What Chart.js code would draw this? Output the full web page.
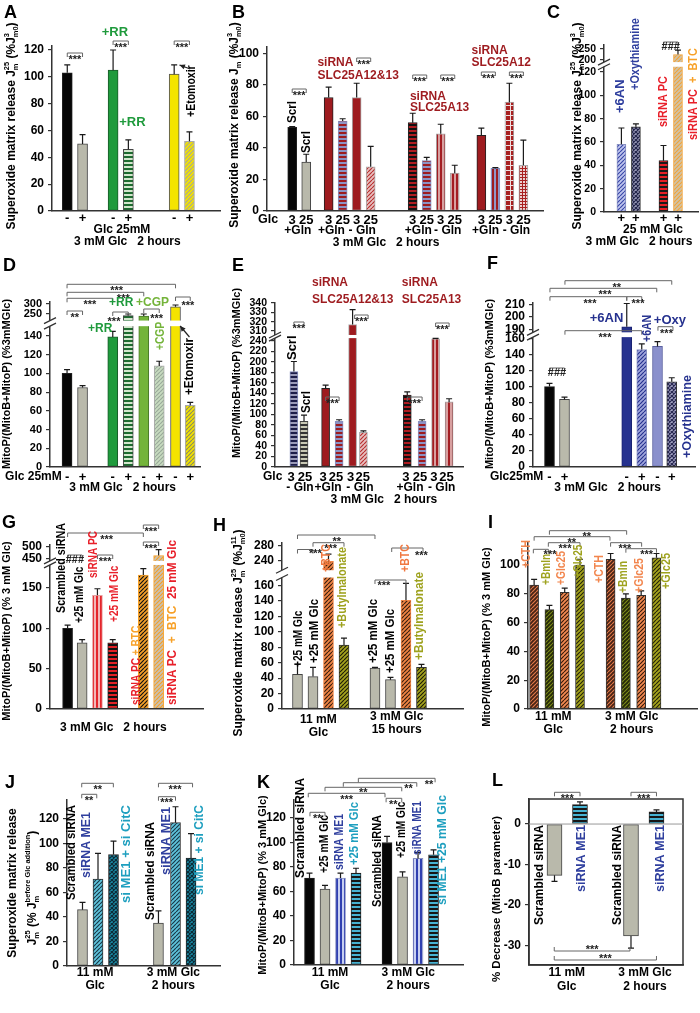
<!DOCTYPE html>
<html>
<head>
<meta charset="utf-8">
<title>Superoxide and MitoP panels</title>
<script src="https://cdn.jsdelivr.net/npm/chart.js@4.4.1/dist/chart.umd.min.js"></script>
<style>
  html, body { margin: 0; background: #fff; }
  #fig { position: relative; width: 700px; height: 1013px; overflow: hidden; background: #fff; }
  #fig canvas { position: absolute; left: 0; top: 0; }
</style>
</head>
<body>
<div id="fig"></div>
<script>
/* ── Panel data ─────────────────────────────────────────────── */
const aSlots = [1, 2, 4, 5, 8, 9];
const aVals  = [103, 50, 105, 46, 102, 52];
const aErrs  = [6, 7, 15, 7, 7, 7];
const aCats  = ['-', '+', '-', '+', '-', '+'];
const aTicks = [0, 20, 40, 60, 80, 100, 120];

const bSlots = [1.8, 2.8, 4.4, 5.4, 6.4, 7.4, 10.4, 11.4, 12.4, 13.4, 15.3, 16.3, 17.3, 18.3];
const bVals  = [53, 31, 72, 57, 72, 28, 56, 32, 49, 24, 48, 27, 69, 29];
const bErrs  = [0.5, 5, 6.5, 1.5, 9, 13, 6, 2, 6, 5, 4.5, 0.5, 12, 16];
const bCats  = ['3', '25', '3', '25', '3', '25', '3', '25', '3', '25', '3', '25', '3', '25'];
const bTicks = [0, 20, 40, 60, 80, 100];

const cSlots = [1.2, 2.2, 4.1, 5.1];
const cVals  = [58, 73, 44, 225];
const cErrs  = [14, 2.5, 13, 20];
const cCats  = ['+', '+', '+', '+'];
const cTicks = [0, 20, 40, 60, 80, 100, 120, 200, 250];

const dSlots = [1.1, 2.1, 4.05, 5.05, 6.05, 7.05, 8.1, 9.05];
const dVals  = [100, 85, 139, 242, 240, 108, 286, 66];
const dErrs  = [4, 2, 6, 8, 10, 5, 9, 3];
const dCats  = ['-', '+', '-', '+', '-', '+', '-', '+'];
const dTicks = [0, 20, 40, 60, 80, 100, 120, 140, 250, 300];

const eSlots = [1.4, 2.15, 3.75, 4.75, 5.75, 6.55, 9.8, 10.9, 11.9, 12.9];
const eVals  = [182, 87, 150, 87, 317, 66, 137, 87, 244, 124];
const eErrs  = [19, 12, 6, 3, 16, 3, 6, 3, 1, 6];
const eCats  = ['3', '25', '3', '25', '3', '25', '3', '25', '3', '25'];
const eTicks = [0, 20, 40, 60, 80, 100, 120, 140, 160, 180, 200, 220, 240, 310, 320, 330, 340];

const fSlots = [1.1, 2.1, 6.25, 7.25, 8.3, 9.25];
const fVals  = [100, 84, 192, 146, 150, 106];
const fErrs  = [4, 3, 19, 7, 6, 5];
const fCats  = ['-', '+', '-', '+', '-', '+'];
const fTicks = [0, 20, 40, 60, 80, 100, 120, 140, 160, 190, 200, 210];

const gSlots = [1.15, 2.1, 3.1, 4.1, 6.1, 7.1];
const gVals  = [100, 82, 141, 82, 166, 462];
const gErrs  = [4, 4, 8, 4, 8, 25];
const gTicks = [0, 50, 100, 150, 450, 500];

const hSlots = [1, 2, 3, 4, 6, 7, 8, 9];
const hVals  = [45, 42, 238, 83, 53, 38, 141, 54];
const hErrs  = [13, 12, 19, 9, 1, 3, 22, 4];
const hTicks = [0, 20, 40, 60, 80, 100, 120, 140, 160, 240, 280];

const iSlots = [0, 1, 2, 3, 5, 6, 7, 8];
const iVals  = [86, 69, 81, 100, 104, 77, 79, 105];
const iErrs  = [4, 3, 3, 4, 4, 3, 3, 3];
const iTicks = [0, 20, 40, 60, 80, 100];

const jSlots = [1, 2, 3, 5.9, 7, 8];
const jVals  = [46, 71, 91, 35, 117, 88];
const jErrs  = [6, 21, 11, 10, 13, 20];
const jTicks = [0, 20, 40, 60, 80, 100, 120];

const kSlots = [1, 2, 3, 4, 6, 7, 8, 9];
const kVals  = [71, 62, 71, 75, 100, 72, 87, 90];
const kErrs  = [4, 3, 4, 4, 5, 4, 5, 4];
const kTicks = [0, 20, 40, 60, 80, 100, 120];

const lSlots = [1, 2, 4, 5];
const lVals  = [-12.7, 4.8, -27.7, 3];
const lErrs  = [1.5, 0.7, 3, 0.5];
const lTicks = [-30, -20, -10, 0];

/* ── Look ───────────────────────────────────────────────────── */
const FF = 'Arial, "Liberation Sans", sans-serif';
Chart.defaults.font.family = FF;
Chart.defaults.font.weight = 'bold';
Chart.defaults.color = '#000';
Chart.defaults.animation = false;

const BLK = '#060606', GRY = '#b9b9ab', GRN = '#1f9a3c', LGRN = '#74b43a', YEL = '#f4e400';
const DRD = '#9e1b1f', RED = '#e8202a', ORG = '#f7a128', NAVY = '#26328f', LAV = '#8a90cc';
const BLU = '#2f3f9e', TEAL = '#1e9fbf', OLV = '#9ea21e', SALM = '#f2864e';

const pctx = document.createElement('canvas').getContext('2d');
function pat(kind, fg, bg, n = 4) {
  const c = document.createElement('canvas');
  c.width = c.height = n;
  const g = c.getContext('2d');
  g.fillStyle = bg; g.fillRect(0, 0, n, n);
  g.fillStyle = fg; g.strokeStyle = fg; g.lineWidth = 1.2;
  if (kind === 'h') g.fillRect(0, 0, n, n / 2);
  else if (kind === 'v') g.fillRect(0, 0, n / 2, n);
  else if (kind === 'g') { g.fillRect(0, 0, n, 1); g.fillRect(0, 0, 1, n); }
  else {
    g.beginPath();
    for (let k = -1; k <= 1; k++) { g.moveTo(k * n, n); g.lineTo(k * n + n, 0); }
    if (kind === 'x') for (let k = -1; k <= 1; k++) { g.moveTo(k * n, 0); g.lineTo(k * n + n, n); }
    g.stroke();
  }
  return pctx.createPattern(c, 'repeat');
}

const GRN_H = pat('h', '#1d6b2f', '#d2e6cc');
const RB_H  = pat('h', DRD, '#8c92c4');
const RD_D  = pat('d', '#b83030', '#e8c0c0');
const KR_H  = pat('h', '#111', '#b01c20');
const RV    = pat('v', '#a31d22', '#d8a0a0');
const TEAL_H = pat('h', '#161616', '#46b2d2');

/* axis break: [lastLowerValue, upperRef, axisUnitsAtRef, upperScale] */
function fwdFor(brk) {
  return brk ? v => (v <= brk[0] ? v : brk[2] + (v - brk[1]) * brk[3]) : v => v;
}

/* rich text: segments [text, colour, kind]  kind u=sup, U=sup w/o advance, d=sub
   fit = wanted length along the text (slightly condensed lettering) */
function label(ctx, x, y, content, color, size, align, rot, fit) {
  const segs = typeof content === 'string' ? [[content]] : content;
  ctx.save();
  ctx.translate(x, y);
  if (rot) ctx.rotate(-Math.PI / 2);
  ctx.textBaseline = 'middle';
  ctx.textAlign = 'left';
  const parts = segs.map(s => {
    const sz = s[2] ? size * 0.62 : size;
    ctx.font = `bold ${sz}px ${FF}`;
    return { s, sz, w: ctx.measureText(s[0]).width };
  });
  let total = 0, hold = 0;
  parts.forEach(q => { if (q.s[2] === 'U') hold = q.w; else { total += Math.max(q.w, hold); hold = 0; } });
  if (fit) ctx.scale(Math.min(1.08, Math.max(0.84, fit / total)), 1);
  let cx = align === 'c' ? -total / 2 : align === 'r' ? -total : 0;
  hold = 0;
  parts.forEach(q => {
    ctx.font = `bold ${q.sz}px ${FF}`;
    ctx.fillStyle = q.s[1] || color;
    const dy = (q.s[2] === 'u' || q.s[2] === 'U') ? -size * 0.4 : q.s[2] === 'd' ? size * 0.3 : 0;
    ctx.fillText(q.s[0], cx, dy);
    if (q.s[2] === 'U') hold = q.w; else { cx += Math.max(q.w, hold); hold = 0; }
  });
  ctx.restore();
}

function stars(ctx, x, y, t) {
  ctx.save();
  ctx.font = `bold 11px ${FF}`;
  ctx.fillStyle = '#222';
  ctx.textAlign = 'center';
  ctx.textBaseline = 'alphabetic';
  ctx.fillText(t, x, y + (t[0] === '*' ? 6 : 4));
  ctx.restore();
}

const H = (x, y, t, c = '#000', s = 12, a = 'c') => ({ x, y, t, c, s, a, r: false });
const R = (x, y, t, c = '#000', s = 12, fit) => ({ x, y, t, c, s, a: 'l', r: true, fit });

const SUPER = (a, b) => [['Superoxide matrix release J'], [a, null, 'U'], ['m', null, 'd'],
                         [' (%J'], [b, null, 'U'], ['m0', null, 'd'], [')']];

/* ── Extras drawn on top of each chart ─────────────────────── */
function decorate(ch, p, f) {
  const ctx = ch.ctx, A = ch.chartArea, xs = ch.scales.x, ys = ch.scales.y;
  const X = s => xs.getPixelForValue(s);
  ctx.save();

  if (p.box) {
    ctx.strokeStyle = '#333'; ctx.lineWidth = 1.5;
    ctx.strokeRect(A.left, A.top, A.right - A.left, A.bottom - A.top);
  }
  if (p.zero) {
    const y0 = ys.getPixelForValue(0);
    ctx.strokeStyle = '#999'; ctx.lineWidth = 1;
    ctx.beginPath(); ctx.moveTo(A.left, y0); ctx.lineTo(A.right, y0); ctx.stroke();
  }

  if (p.band) {
    const ya = ys.getPixelForValue(p.band[0]), yb = ys.getPixelForValue(p.band[1]);
    ctx.fillStyle = '#fff';
    ctx.fillRect(A.left - 9, yb, A.right - A.left + 9, ya - yb);
    ctx.strokeStyle = '#333'; ctx.lineWidth = 1.3;
    ctx.beginPath();
    [ya, yb].forEach(y => { ctx.moveTo(A.left - 6, y + 3); ctx.lineTo(A.left + 6, y - 3); });
    ctx.stroke();
  }

  /* error bars (one-sided, away from zero) */
  ctx.strokeStyle = '#1a1a1a'; ctx.lineWidth = 1.2;
  ch.getDatasetMeta(0).data.forEach((b, i) => {
    const v = p.vals[i], e = p.errs[i];
    const ya = ys.getPixelForValue(f(v));
    const yb = ys.getPixelForValue(f(v < 0 ? v - e : v + e));
    ctx.beginPath();
    ctx.moveTo(b.x, ya); ctx.lineTo(b.x, yb);
    ctx.moveTo(b.x - 3, yb); ctx.lineTo(b.x + 3, yb);
    ctx.stroke();
  });

  if (p.cats) {
    const at = p.catAt || p.slots;
    p.cats[0].forEach((t, i) => label(ctx, X(at[i]), p.cats[1], t, '#000', 13, 'c', false));
  }

  /* significance brackets: [from, to, y, text, textSlot, textY, legsUp] */
  ctx.strokeStyle = '#666'; ctx.lineWidth = 1;
  (p.brackets || []).forEach(([a, b, y, t, tx, ty, up]) => {
    const xa = X(a), xb = X(b), d = up ? -4 : 4;
    ctx.beginPath();
    ctx.moveTo(xa, y + d); ctx.lineTo(xa, y); ctx.lineTo(xb, y); ctx.lineTo(xb, y + d);
    ctx.stroke();
    stars(ctx, tx == null ? (xa + xb) / 2 : X(tx), ty == null ? y + d : ty, t);
  });

  (p.texts || []).forEach(o => label(ctx, X(o.x), o.y, o.t, o.c, o.s, o.a, o.r, o.fit));

  (p.arrows || []).forEach(([sa, ya, sb, yb]) => {
    const xa = X(sa), xb = X(sb), ang = Math.atan2(yb - ya, xb - xa);
    ctx.strokeStyle = '#222'; ctx.fillStyle = '#222'; ctx.lineWidth = 1.2;
    ctx.beginPath(); ctx.moveTo(xa, ya); ctx.lineTo(xb, yb); ctx.stroke();
    ctx.beginPath(); ctx.moveTo(xb, yb);
    ctx.lineTo(xb - 6 * Math.cos(ang - 0.45), yb - 6 * Math.sin(ang - 0.45));
    ctx.lineTo(xb - 6 * Math.cos(ang + 0.45), yb - 6 * Math.sin(ang + 0.45));
    ctx.closePath(); ctx.fill();
  });

  (p.titles || []).forEach(([x, y, t, s]) => label(ctx, x, y, t, '#000', s || 11.5, 'c', true));

  ctx.font = `bold 18px ${FF}`;
  ctx.fillStyle = '#000';
  ctx.textAlign = 'left';
  ctx.textBaseline = 'alphabetic';
  ctx.fillText(p.letter[0], p.letter[1], p.letter[2]);
  ctx.restore();
}

/* ── One chart per panel, all on a page-sized canvas ───────── */
const AXW = 44;   // room kept for the y tick labels
let panelNo = 0;
function panel(p) {
  const cv = document.createElement('canvas');
  cv.width = 700; cv.height = 1013;
  document.getElementById('fig').appendChild(cv);
  const f = fwdFor(p.brk);
  const [x1, y1, x2, y2] = p.area;
  new Chart(cv, {
    type: 'bar',
    data: {
      datasets: [{
        data: p.slots.map((s, i) => ({ x: s, y: f(p.vals[i]) })),
        backgroundColor: p.fills,
        borderColor: p.borders,
        borderWidth: 1,
        borderSkipped: false,
        barThickness: p.bw || 10
      }]
    },
    options: {
      responsive: false,
      animation: false,
      events: [],
      layout: { padding: { left: x1 - AXW, top: y1, right: 700 - x2, bottom: 1013 - y2 } },
      plugins: { legend: { display: false }, tooltip: { enabled: false } },
      scales: {
        x: {
          type: 'linear', min: p.xr[0], max: p.xr[1], offset: false,
          ticks: { display: false },
          grid: { display: false },
          border: { color: '#333', width: 1.5, z: 1 },
          afterFit: s => { s.height = 0; }
        },
        y: {
          min: p.yr[0], max: f(p.yr[1]),
          afterFit: s => { s.width = AXW; },
          afterBuildTicks: s => { s.ticks = p.yt.map(v => ({ value: f(v) })); },
          ticks: {
            autoSkip: false, padding: 4, color: '#000',
            font: { size: p.tf || 12, weight: 'bold' },
            callback: (v, i) => String(p.yt[i])
          },
          grid: { drawOnChartArea: false, tickLength: 4, color: '#333', lineWidth: 1.2 },
          border: { color: '#333', width: 1.5 }
        }
      }
    },
    plugins: [{ id: 'decor' + (panelNo++), afterDraw: ch => decorate(ch, p, f) }]
  });
}

/* A */
panel({
  area: [52, 46, 220, 211], xr: [0, 11], yr: [0, 123], yt: aTicks,
  slots: aSlots, vals: aVals, errs: aErrs, bw: 10,
  fills: [BLK, GRY, GRN, GRN_H, YEL, pat('d', '#a8a898', '#f2e200')],
  borders: ['#222', '#444', '#1a5a2a', '#444', '#555', '#aaa'],
  cats: [aCats, 218],
  brackets: [[1, 2, 53, '***'], [4, 5, 41, '***'], [8, 9, 41, '***']],
  texts: [
    H(4.12, 32, '+RR', GRN, 13), H(5.26, 122, '+RR', GRN, 13),
    R(9.15, 117, '+Etomoxir', '#000', 12.5, 50),
    H(4.58, 230, 'Glc 25mM'), H(4.93, 242, '3 mM Glc   2 hours')
  ],
  arrows: [[9.05, 69, 8.35, 65]],
  titles: [[12, 126, SUPER('25', '3'), 12]],
  letter: ['A', 4, 18]
});

/* B */
panel({
  area: [267, 47, 543, 211], xr: [0, 19.7], yr: [0, 104], yt: bTicks,
  slots: bSlots, vals: bVals, errs: bErrs, bw: 9,
  fills: [BLK, GRY, DRD, RB_H, DRD, RD_D, KR_H, RB_H, RV, RV, DRD,
          pat('v', DRD, '#9096c8'), pat('g', '#f0e0e0', '#a82020', 5), pat('g', '#a82020', '#ecd0d0', 3)],
  borders: ['#222', '#444', '#222', '#8890c0', '#aaa', '#aaa', '#222', '#8890c0', '#aaa', '#aaa',
            '#222', '#8890c0', '#aaa', '#aaa'],
  cats: [bCats, 220],
  brackets: [[1.8, 2.8, 89, '***'], [6.4, 7.4, 58, '***'], [10.4, 11.4, 75, '***'],
             [12.4, 13.4, 75, '***'], [15.3, 16.3, 72, '***'], [17.3, 18.3, 72, '***']],
  texts: [
    R(1.86, 123, 'Scrl', '#000', 12, 22), R(2.86, 153, 'Scrl', '#000', 12, 22),
    H(3.6, 63, 'siRNA', DRD, 12, 'l'), H(3.6, 76, 'SLC25A12&13', DRD, 12, 'l'),
    H(10.2, 97, 'siRNA', DRD, 12, 'l'), H(10.2, 108, 'SLC25A13', DRD, 12, 'l'),
    H(14.6, 51, 'siRNA', DRD, 12, 'l'), H(14.6, 63, 'SLC25A12', DRD, 12, 'l'),
    H(-0.64, 220, 'Glc', '#000', 12.5, 'l'),
    H(2.2, 231, '+Gln'), H(4.6, 231, '+Gln'), H(6.8, 231, '- Gln'), H(10.8, 231, '+Gln'),
    H(12.9, 231, '- Gln'), H(15.6, 231, '+Gln'), H(17.8, 231, '- Gln'),
    H(8.5, 243, '3 mM Glc   2 hours')
  ],
  titles: [[235, 125, [['Superoxide matrix release J'], ['m', null, 'd'], [' (%J'], ['3', null, 'U'], ['m0', null, 'd'], [')']], 12]],
  letter: ['B', 232, 18]
});

/* C */
panel({
  area: [604, 45, 698, 212], xr: [0, 6.48], yr: [0, 268], yt: cTicks, tf: 10.5,
  brk: [124, 200, 130.3, 0.189], band: [124.5, 128.5],
  slots: cSlots, vals: cVals, errs: cErrs, bw: 9,
  fills: [pat('d', '#3a48a8', '#c0c6ee'), pat('x', '#22244a', '#9a9ab8'),
          pat('h', '#e61e25', '#1a1a1a'), pat('d', '#f2a33a', '#cfc3a8')],
  borders: ['#8890c0', '#333', '#222', '#f2a33a'],
  cats: [cCats, 218],
  brackets: [[4.1, 5.1, 42, '###']],
  texts: [
    R(1.1, 113, '+6AN', BLU, 13), R(2.14, 90, '+Oxythiamine', BLU, 13, 66),
    R(4.07, 127, 'siRNA PC', RED, 13, 48),
    R(6.14, 140, [['siRNA PC', RED], ['  +  BTC', ORG]], '#000', 13, 84),
    H(3.38, 230, '25 mM Glc'), H(2.41, 242, '3 mM Glc   2 hours')
  ],
  titles: [[578, 126, SUPER('25', '3'), 12]],
  letter: ['C', 547, 18]
});

/* D */
panel({
  area: [50, 302, 200, 467], xr: [0, 9.68], yr: [0, 310], yt: dTicks, tf: 11,
  brk: [150, 250, 163.5, 0.214], band: [150.5, 156.5],
  slots: dSlots, vals: dVals, errs: dErrs, bw: 10,
  fills: [BLK, GRY, GRN, GRN_H, LGRN, pat('d', '#9aaa9a', '#c8dcc0'), YEL, pat('d', '#8a8a60', '#f2e200')],
  borders: ['#222', '#444', '#1a5a2a', '#444', '#4a7a2a', '#aaa', '#555', '#aaa'],
  cats: [dCats, 477],
  brackets: [[1.1, 2.1, 311, '**'], [1.1, 8.1, 284.3, '***', 4.3], [1.1, 6.05, 292.3, '***', 4.73],
             [1.1, 4.05, 298.3, '***', 2.58], [4.05, 5.05, 312, '***', 4.13, 319],
             [6.05, 7.05, 309, '***', 6.88, 316], [8.1, 9.05, 297, '***', 8.9, 303]],
  texts: [
    H(4.6, 303, '+RR', GRN, 12), H(3.24, 329, '+RR', GRN, 12), H(6.62, 303, '+CGP', LGRN, 12),
    R(7.14, 350, '+CGP', LGRN, 12, 28), R(9.03, 395, '+Etomoxir', '#000', 12.5, 57),
    H(-2.9, 477, 'Glc 25mM', '#000', 12, 'l'), H(4.69, 488, '3 mM Glc   2 hours')
  ],
  arrows: [[9.0, 337, 8.4, 326]],
  titles: [[7, 384, 'MitoP/(MitoB+MitoP) (%3mMGlc)', 11]],
  letter: ['D', 3, 271]
});

/* E */
panel({
  area: [275, 303, 463, 467], xr: [0, 13.93], yr: [0, 340], yt: eTicks, tf: 10.5,
  brk: [245, 310, 259, 1.78], band: [245.5, 251.5],
  slots: eSlots, vals: eVals, errs: eErrs, bw: 8,
  fills: [pat('h', '#1c1c48', '#9a9ab8'), pat('h', '#333', '#c8c8b4'), DRD, RB_H, DRD, RD_D, KR_H, RB_H, RV, RV],
  borders: ['#8890c0', '#444', '#222', '#8890c0', '#aaa', '#aaa', '#222', '#8890c0', '#aaa', '#aaa'],
  cats: [eCats, 477],
  catAt: [1.19, 2.22, 3.57, 4.52, 5.6, 6.5, 9.7, 10.74, 11.78, 12.7],
  brackets: [[1.4, 2.15, 322, '***'], [3.75, 4.75, 397, '***'], [5.9, 6.9, 315, '***'],
             [9.8, 10.9, 397, '***'], [11.9, 12.9, 323, '***']],
  texts: [
    R(1.33, 360, 'Scrl', '#000', 12, 26), R(2.37, 413, 'Scrl', '#000', 12, 22),
    H(2.74, 283, 'siRNA', DRD, 12, 'l'), H(2.74, 300, 'SLC25A12&13', DRD, 12, 'l'),
    H(9.4, 283, 'siRNA', DRD, 12, 'l'), H(9.4, 300, 'SLC25A13', DRD, 12, 'l'),
    H(-0.89, 477, 'Glc', '#000', 12, 'l'),
    H(1.85, 488, '- Gln'), H(3.93, 488, '+Gln'), H(6.3, 488, '- Gln'),
    H(10.0, 488, '+Gln'), H(12.35, 488, '- Gln'),
    H(8.07, 500, '3 mM Glc   2 hours')
  ],
  titles: [[237, 373, 'MitoP/(MitoB+MitoP) (%3mMGlc)', 11]],
  letter: ['E', 232, 271]
});

/* F */
panel({
  area: [533, 303, 695, 467], xr: [0, 10.8], yr: [0, 211.4], yt: fTicks,
  brk: [161, 190, 171.2, 1.53], band: [161.5, 167.5],
  slots: fSlots, vals: fVals, errs: fErrs, bw: 10,
  fills: [BLK, GRY, NAVY, pat('d', NAVY, '#a0a6dc'), LAV, pat('x', '#262650', '#a4a4c4')],
  borders: ['#222', '#444', '#1a2270', '#8890c0', '#5a60a0', '#333'],
  cats: [fCats, 477],
  brackets: [[1.1, 2.1, 368, '###'], [2.13, 9.25, 280.7, '**', 5.58], [1.13, 8.25, 288.3, '***', 4.8],
             [1.13, 6.25, 296.7, '***', 3.8], [6.25, 7.25, 296.7, '***', 7.0, 301],
             [2.13, 7.25, 330.7, '***', 4.8], [8.33, 9.33, 326.7, '***', 8.9]],
  texts: [
    H(4.9, 318, '+6AN', NAVY, 13), R(7.64, 342, '+6AN', NAVY, 12.5, 24),
    H(9.13, 320, '+Oxy', NAVY, 13), R(10.31, 458, '+Oxythiamine', NAVY, 12.5, 83),
    H(-2.87, 477, 'Glc25mM', '#000', 12, 'l'), H(4.98, 488, '3 mM Glc   2 hours')
  ],
  titles: [[490, 384, 'MitoP/(MitoB+MitoP) (%3mMGlc)', 11]],
  letter: ['F', 487, 269]
});

/* G */
panel({
  area: [50, 545, 203, 709], xr: [0, 10], yr: [0, 507], yt: gTicks,
  brk: [178, 450, 186.8, 0.288], band: [178.5, 183.5],
  slots: gSlots, vals: gVals, errs: gErrs, bw: 10,
  fills: [BLK, GRY, pat('v', '#e4262c', '#f2b8b8'), pat('h', '#111', '#e02025'),
          pat('d', '#111', '#f4a02a'), pat('d', '#f4a02a', '#c8c2b4')],
  borders: ['#222', '#444', '#e8a0a0', '#222', '#f4a02a', '#f4a02a'],
  brackets: [[1.15, 2.1, 555, '###'], [3.1, 4.1, 555, '***'], [1.15, 6.1, 533, '***', 3.7],
             [6.1, 7.1, 542, '***'], [6.1, 7.1, 525, '***']],
  texts: [
    R(0.78, 613, 'Scrambled siRNA', '#000', 12, 90), R(1.96, 623, '+25 mM Glc', '#000', 12, 55),
    R(2.88, 578, 'siRNA PC', RED, 12, 46), R(4.25, 622, '+25 mM Glc', RED, 12, 54),
    R(5.69, 705, [['siRNA PC', RED], [' + BTC', ORG]], '#000', 12, 76),
    R(8.04, 705, [['siRNA PC', RED], ['  +  BTC', ORG], ['  25 mM Glc', RED]], '#000', 12, 165),
    H(4.14, 728, '3 mM Glc   2 hours')
  ],
  titles: [[7, 631, 'MitoP/(MitoB+MitoP) (% 3 mM Glc)', 11]],
  letter: ['G', 2, 528]
});

/* H */
panel({
  area: [282, 543, 463, 709], xr: [0, 11.68], yr: [0, 286], yt: hTicks,
  brk: [170, 240, 192.4, 0.4975], band: [170.5, 180],
  slots: hSlots, vals: hVals, errs: hErrs, bw: 10,
  fills: [GRY, GRY, pat('d', '#3a2010', '#f08444'), pat('d', '#1e1e06', '#a4a21e'),
          GRY, GRY, pat('d', '#3a2010', '#f08444'), pat('d', '#1e1e06', '#a4a21e')],
  borders: ['#444', '#444', '#f08444', '#333', '#444', '#444', '#f08444', '#333'],
  brackets: [[1, 2, 549.5, '***', 2.15, 551], [2, 4, 542.7, '***', 3.14, 546], [1, 6, 535, '**', 3.53, 539],
             [6, 8, 580, '***', 6.58, 583], [7.08, 9.1, 548, '***', 9.0, 553]],
  texts: [
    R(1.1, 667, '+25 mM Glc', '#000', 12, 56), R(2.13, 663, '+25 mM Glc', '#000', 12, 64),
    R(2.9, 572, '+BTC', '#f07840', 12.5, 26), R(3.94, 628, '+Butylmalonate', OLV, 12, 81),
    R(5.94, 663, '+25 mM Glc', '#000', 12, 64), R(7.03, 673, '+25 mM Glc', '#000', 12, 64),
    R(8.0, 572, '+BTC', '#f07840', 12.5, 26), R(8.9, 660, '+Butylmalonate', OLV, 12, 88),
    H(2.35, 720, '11 mM'), H(2.35, 733, 'Glc'), H(7.4, 717, '3 mM Glc'), H(7.4, 730, '15 hours')
  ],
  titles: [[239, 633, SUPER('25', '11'), 12]],
  letter: ['H', 213, 531]
});

/* I */
panel({
  area: [528, 543, 697, 709], xr: [-0.4, 10.65], yr: [0, 115.3], yt: iTicks,
  slots: iSlots, vals: iVals, errs: iErrs, bw: 9,
  fills: [pat('d', '#e07a4a', '#4a2416'), pat('d', '#7c8a1a', '#262a08'),
          pat('d', '#3a1a0a', '#f28a52'), pat('d', '#26260a', '#a6a41c'),
          pat('d', '#e07a4a', '#4a2416'), pat('d', '#7c8a1a', '#262a08'),
          pat('d', '#3a1a0a', '#f28a52'), pat('d', '#26260a', '#a6a41c')],
  borders: ['#333', '#333', '#333', '#333', '#333', '#333', '#333', '#333'],
  brackets: [[-0.05, 0.93, 549.3, '***', 1.04, 552], [0.93, 3.0, 542.7, '***', 2.02, 546],
             [0, 4.96, 536.7, '**', 2.46, 540], [1, 6.05, 530.7, '**', 3.44, 534],
             [5, 7.03, 542.7, '***', 5.94, 546], [6, 8, 548.7, '***', 7.36, 552]],
  texts: [
    R(-0.48, 568, '+CTH', SALM, 12, 28), R(0.82, 585, '+Bmln', OLV, 12, 30),
    R(1.8, 585, '+Glc25', SALM, 12, 34), R(2.89, 578, '+Glc25', OLV, 12, 33),
    R(4.31, 583, '+CTH', SALM, 12, 28), R(5.83, 593, '+Bmln', OLV, 12, 32),
    R(6.92, 593, '+Glc25', SALM, 12, 35), R(8.66, 589, '+Glc25', OLV, 12, 36),
    H(1.25, 717, '11 mM'), H(1.25, 730, 'Glc'), H(6.38, 717, '3 mM Glc'), H(6.38, 730, '2 hours')
  ],
  titles: [[487, 637, 'MitoP/(MitoB+MitoP) (% 3 mM Glc)', 11]],
  letter: ['I', 488, 528]
});

/* J */
panel({
  area: [67, 800, 220, 966], xr: [0, 9.87], yr: [0, 135.5], yt: jTicks,
  slots: jSlots, vals: jVals, errs: jErrs, bw: 10,
  fills: [GRY, pat('d', '#1a3848', '#5ec4dc'), pat('x', '#0c2a36', '#1b8aa4'),
          GRY, pat('d', '#1a3848', '#5ec4dc'), pat('x', '#0c2a36', '#1b8aa4')],
  borders: ['#444', '#333', '#222', '#444', '#333', '#222'],
  brackets: [[0.95, 1.92, 794.3, '**', 1.42, 798], [0.95, 2.99, 783.3, '**', 1.98, 787],
             [5.9, 7.0, 796.7, '***', 6.43, 800], [5.9, 8.1, 783.3, '***', 6.97, 787]],
  texts: [
    R(0.32, 900, 'Scrambled siRNA', '#000', 12.5, 95), R(1.29, 878, 'siRNA ME1', BLU, 12.5, 66),
    R(3.81, 903, 'si ME1 + si CitC', TEAL, 12.5, 98),
    R(5.42, 920, 'Scrambled siRNA', '#000', 12.5, 98), R(6.39, 875, 'siRNA ME1', BLU, 12.5, 68),
    R(8.58, 895, 'si ME1 + si CitC', TEAL, 12.5, 90),
    H(1.81, 973, '11 mM'), H(1.81, 986, 'Glc'), H(6.86, 973, '3 mM Glc'), H(6.86, 986, '2 hours')
  ],
  titles: [
    [13, 883, 'Superoxide matrix release', 12],
    [33, 888, [['J'], ['25', null, 'U'], ['m', null, 'd'], [' (% J'], ['before Glc addition', null, 'U'], ['m', null, 'd'], [')']], 12]
  ],
  letter: ['J', 5, 788]
});

/* K */
panel({
  area: [294, 800, 463, 965], xr: [0, 10.9], yr: [0, 134.7], yt: kTicks,
  slots: kSlots, vals: kVals, errs: kErrs, bw: 10,
  fills: [BLK, GRY, pat('v', '#3040b0', '#c8d0f2'), TEAL_H, BLK, GRY, pat('v', '#3040b0', '#c8d0f2'), TEAL_H],
  borders: ['#222', '#444', '#8890c0', '#222', '#222', '#444', '#8890c0', '#222'],
  brackets: [[1.03, 2.0, 812.3, '**', 1.5, 816], [0.92, 5.87, 793.3, '***', 3.4, 797],
             [2.0, 6.95, 787.3, '**', 4.47, 790], [3.18, 7.92, 782.7, '**', 7.38, 786],
             [4.15, 9.1, 778.3, '**', 8.71, 782], [5.94, 6.95, 798.3, '**', 6.4, 802]],
  texts: [
    R(0.45, 878, 'Scrambled siRNA', '#000', 12.5, 100), R(2.0, 873, '+25 mM Glc', '#000', 12, 58),
    R(2.97, 870, 'siRNA ME1', BLU, 12, 56), R(3.94, 865, '+25 mM Glc', TEAL, 12, 63),
    R(5.42, 907, 'Scrambled siRNA', '#000', 12.5, 92), R(6.97, 858, '+25 mM Glc', '#000', 12, 56),
    R(8.0, 855, 'siRNA ME1', BLU, 12, 54), R(9.61, 905, 'si ME1 +25 mM Glc', TEAL, 12, 110),
    H(2.32, 973, '11 mM'), H(2.32, 986, 'Glc'), H(7.37, 973, '3 mM Glc'), H(7.37, 986, '2 hours')
  ],
  titles: [[263, 885, 'MitoP/(MitoB+MitoP) (% 3 mM Glc)', 11]],
  letter: ['K', 257, 788]
});

/* L */
panel({
  area: [529, 799, 683, 965], xr: [0, 6.04], yr: [-34.9, 6.2], yt: lTicks,
  slots: lSlots, vals: lVals, errs: lErrs, bw: 15, box: true, zero: true,
  fills: [GRY, TEAL_H, GRY, TEAL_H],
  borders: ['#444', '#222', '#444', '#222'],
  brackets: [[1, 2, 792.3, '***'], [4, 5, 792.3, '***'],
             [0.99, 3.96, 951, '***', null, 947, 1], [0.99, 5.0, 960, '***', null, 956, 1]],
  texts: [
    R(0.43, 925, 'Scrambled siRNA', '#000', 12.5, 100), R(2.08, 892, 'siRNA ME1', BLU, 12.5, 67),
    R(3.49, 925, 'Scrambled siRNA', '#000', 12.5, 100), R(5.14, 892, 'siRNA ME1', BLU, 12.5, 67),
    H(1.48, 973, '11 mM'), H(1.48, 987, 'Glc'), H(4.55, 973, '3 mM Glc'), H(4.55, 987, '2 hours')
  ],
  titles: [[497, 899, '% Decrease (MitoB parameter)', 11.5]],
  letter: ['L', 492, 786]
});
</script>
</body>
</html>
